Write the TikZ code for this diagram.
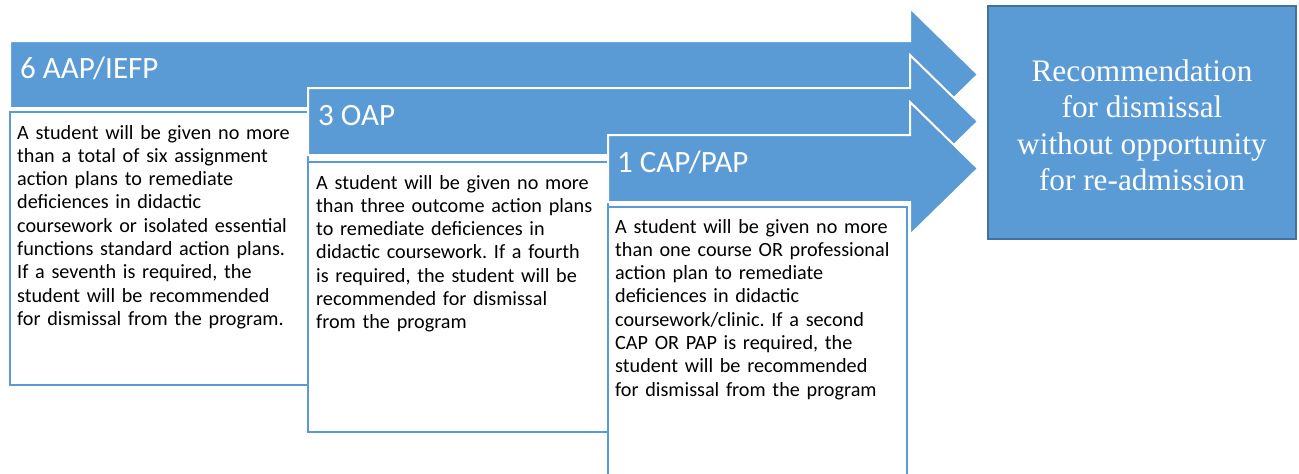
\documentclass[tikz,border=0pt]{standalone}
\usepackage{fontspec}
\setmainfont{Carlito}
\newfontfamily\serifface{Liberation Serif}
\definecolor{planblue}{HTML}{5B9BD5}
\definecolor{edgeblue}{HTML}{41719C}
\frenchspacing
\begin{document}
\begin{tikzpicture}[x=1pt,y=-1pt,
  planarrow/.style={fill=planblue, draw=white, line width=2pt, line join=miter},
  notebox/.style={fill=white, draw=planblue, line width=2.5pt},
  headlabel/.style={anchor=base west, inner sep=0pt, text=white,
    font=\fontsize{31}{36}\selectfont},
  notetext/.style={anchor=base west, inner sep=0pt, text width=292pt, align=left,
    font=\fontsize{20.2}{23.3}\selectfont},
  outcome/.style={fill=planblue, draw=edgeblue, line width=2pt,
    minimum width=308pt, minimum height=233pt, inner sep=0pt},
  outcometext/.style={text=white, inner sep=0pt, align=center,
    font=\serifface\fontsize{31.3}{36.5}\selectfont}]
\useasboundingbox (0,0) rectangle (1299,474);

% tier 1: assignment / essential-function plans
\draw[planarrow] (10,41) -- (910,41) -- (910,8) -- (978,74.5) -- (910,141)
  -- (910,108) -- (10,108) -- cycle;
\node[headlabel] (aaphead) at (20,78) {6 AAP/IEFP};
\draw[notebox] (10,112) rectangle (308,385);
\node[notetext] (aaptext) at (17,139) {A student will be given no more\\
  than a total of six assignment\\ action plans to remediate\\
  deficiences in didactic\\ coursework or isolated essential\\
  functions standard action plans.\\ If a seventh is required, the\\
  student will be recommended\\ for dismissal from the program.};

% tier 2: outcome plans
\draw[planarrow] (308,88) -- (910,88) -- (910,55) -- (978,121.5) -- (910,188)
  -- (910,155) -- (308,155) -- cycle;
\node[headlabel] (oaphead) at (318,125) {3 OAP};
\draw[notebox] (308,162) rectangle (608,432);
\node[notetext] (oaptext) at (316,189) {A student will be given no more\\
  than three outcome action plans\\ to remediate deficiences in\\
  didactic coursework. If a fourth\\ is required, the student will be\\
  recommended for dismissal\\ from the program};

% tier 3: course / professional plans
\draw[planarrow] (608,135) -- (910,135) -- (910,102) -- (978,168.5) -- (910,235)
  -- (910,202) -- (608,202) -- cycle;
\node[headlabel] (caphead) at (617,172) {1 CAP/PAP};
\draw[notebox] (608,207) rectangle (907,478);
\node[notetext] (captext) at (615,233) {A student will be given no more\\
  than one course OR professional\\ action plan to remediate\\
  deficiences in didactic\\ coursework/clinic. If a second\\
  CAP OR PAP is required, the\\ student will be recommended\\
  for dismissal from the program};

% final outcome
\node[outcome] (dismissal) at (1142,122.5) {};
\node[outcometext] (dismissaltext) at ([yshift=-3pt]dismissal.center)
  {Recommendation\\ for dismissal\\ without opportunity\\ for re-admission};
\end{tikzpicture}
\end{document}
